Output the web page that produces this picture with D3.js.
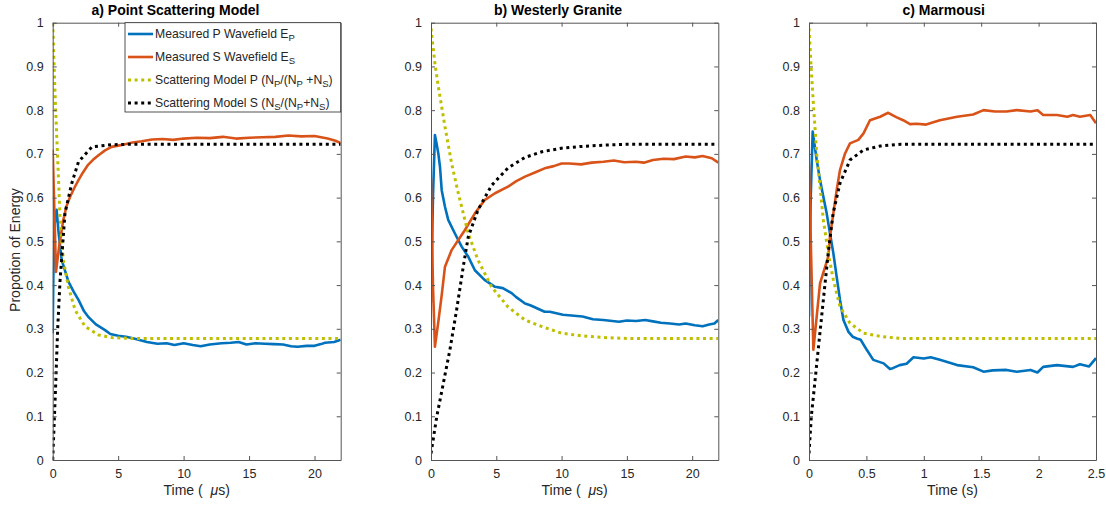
<!DOCTYPE html>
<html>
<head>
<meta charset="utf-8">
<script src="https://cdn.jsdelivr.net/npm/d3@7"></script>
<style>
  body { margin: 0; background: #fff; }
  text { font-family: "Liberation Sans", Arial, sans-serif; fill: #262626; }
</style>
</head>
<body>
<div id="chart"></div>
<script>
// values: [time, proportion]
const measuredPA = [[0,0.29],[0.05,0.42],[0.15,0.54],[0.3,0.572],[0.45,0.52],[0.69,0.457],[1.2,0.408],[1.6,0.385],[1.97,0.366],[2.4,0.34],[2.7,0.328],[3.3,0.31],[4.0,0.297],[4.4,0.288],[5.0,0.284],[5.6,0.282],[6.2,0.278],[7.2,0.27],[8.0,0.266],[8.7,0.267],[9.3,0.263],[10,0.267],[10.7,0.263],[11.3,0.26],[12.0,0.264],[12.9,0.267],[13.6,0.268],[14.2,0.27],[14.8,0.264],[15.5,0.267],[16.2,0.266],[16.9,0.265],[17.6,0.264],[18.2,0.26],[18.7,0.259],[19.4,0.261],[20,0.261],[20.5,0.265],[20.8,0.268],[21.5,0.27],[22,0.275]];
const measuredSA = [[0,0.71],[0.1,0.6],[0.25,0.43],[0.5,0.49],[0.81,0.549],[1.05,0.58],[1.33,0.602],[1.65,0.622],[1.97,0.64],[2.3,0.657],[2.7,0.675],[3.1,0.687],[3.5,0.697],[4.0,0.708],[4.5,0.716],[5.2,0.72],[6.1,0.726],[6.8,0.729],[7.6,0.733],[8.4,0.734],[9.2,0.732],[10,0.735],[11,0.737],[12,0.736],[13,0.739],[14,0.735],[15,0.737],[16,0.738],[17,0.739],[18,0.742],[19,0.74],[20,0.741],[21,0.735],[21.6,0.73],[22,0.725]];
const modelPA = [[0,1.0],[0.1,0.91],[0.2,0.82],[0.3,0.747],[0.56,0.556],[0.81,0.457],[1.2,0.396],[1.71,0.343],[2.48,0.305],[3.5,0.286],[4.5,0.28],[6,0.278],[22,0.278]];
const modelSA = [[0,0.0],[0.2,0.15],[0.38,0.3],[0.56,0.41],[0.94,0.565],[1.46,0.633],[1.97,0.682],[3.0,0.716],[4.5,0.721],[6,0.722],[22,0.722]];

const measuredPB = [[0,0.359],[0.15,0.6],[0.3,0.743],[0.45,0.72],[0.56,0.701],[0.69,0.67],[0.82,0.617],[1.07,0.579],[1.32,0.549],[1.83,0.518],[2.35,0.488],[2.85,0.465],[3.36,0.434],[4.1,0.412],[4.9,0.396],[5.5,0.393],[6.2,0.381],[6.5,0.373],[7.2,0.358],[7.6,0.354],[8.7,0.339],[9.1,0.339],[10.1,0.332],[11.6,0.328],[12.4,0.322],[13.2,0.32],[14.4,0.316],[15.0,0.319],[15.7,0.318],[16.4,0.32],[17,0.317],[17.6,0.314],[18.3,0.312],[19.0,0.31],[19.5,0.312],[20.2,0.308],[20.8,0.306],[21.3,0.31],[21.7,0.312],[22,0.32]];
const measuredSB = [[0,0.644],[0.15,0.4],[0.3,0.259],[0.56,0.316],[0.82,0.377],[1.07,0.442],[1.58,0.48],[2.09,0.503],[2.6,0.526],[3.36,0.564],[4.13,0.595],[4.9,0.61],[5.9,0.625],[6.5,0.637],[7.2,0.648],[8.0,0.658],[8.7,0.667],[9.4,0.672],[10,0.678],[10.6,0.678],[11.5,0.676],[12.3,0.68],[13.2,0.682],[14,0.685],[14.8,0.681],[15.7,0.682],[16.3,0.68],[17,0.686],[17.8,0.689],[18.6,0.688],[19.5,0.694],[20.2,0.692],[20.8,0.695],[21.5,0.69],[22,0.68]];
const modelPB = [[0,0.987],[0.3,0.907],[0.56,0.854],[1.07,0.762],[1.58,0.678],[2.09,0.61],[2.85,0.518],[3.6,0.457],[4.64,0.396],[5.9,0.35],[7.2,0.32],[8.5,0.305],[10,0.29],[11.5,0.284],[13.2,0.28],[15,0.278],[22,0.278]];
const modelSB = [[0,0.015],[0.44,0.099],[0.94,0.175],[1.45,0.252],[1.96,0.343],[2.47,0.442],[2.85,0.51],[3.6,0.572],[4.64,0.628],[5.9,0.668],[7.2,0.692],[8.5,0.705],[10,0.713],[11.5,0.717],[13.2,0.72],[15,0.722],[22,0.722]];

const measuredPC = [[0,0.328],[0.015,0.6],[0.032,0.751],[0.067,0.686],[0.096,0.64],[0.125,0.602],[0.154,0.564],[0.183,0.518],[0.212,0.473],[0.241,0.419],[0.27,0.366],[0.3,0.32],[0.344,0.293],[0.38,0.282],[0.416,0.278],[0.45,0.275],[0.503,0.252],[0.56,0.229],[0.65,0.221],[0.705,0.208],[0.73,0.21],[0.79,0.217],[0.85,0.22],[0.91,0.235],[1.0,0.232],[1.06,0.235],[1.14,0.229],[1.29,0.217],[1.43,0.212],[1.52,0.202],[1.6,0.205],[1.72,0.206],[1.81,0.202],[1.93,0.206],[1.99,0.2],[2.04,0.213],[2.16,0.217],[2.3,0.213],[2.36,0.219],[2.44,0.214],[2.5,0.233]];
const measuredSC = [[0,0.678],[0.02,0.45],[0.038,0.252],[0.096,0.404],[0.168,0.465],[0.183,0.511],[0.212,0.564],[0.241,0.617],[0.27,0.663],[0.314,0.701],[0.357,0.724],[0.43,0.732],[0.475,0.747],[0.531,0.777],[0.62,0.785],[0.69,0.794],[0.76,0.784],[0.82,0.777],[0.88,0.768],[0.94,0.769],[1.02,0.767],[1.14,0.777],[1.29,0.785],[1.43,0.79],[1.52,0.8],[1.62,0.797],[1.72,0.797],[1.81,0.8],[1.93,0.797],[1.99,0.8],[2.04,0.789],[2.16,0.789],[2.25,0.785],[2.3,0.789],[2.36,0.785],[2.45,0.789],[2.5,0.77]];
const modelPC = [[0,0.987],[0.02,0.892],[0.038,0.816],[0.067,0.701],[0.096,0.625],[0.125,0.549],[0.168,0.473],[0.212,0.412],[0.27,0.351],[0.357,0.313],[0.475,0.29],[0.64,0.282],[0.8,0.278],[2.5,0.278]];
const modelSC = [[0,0.015],[0.02,0.099],[0.05,0.175],[0.08,0.252],[0.11,0.328],[0.14,0.404],[0.17,0.48],[0.21,0.564],[0.27,0.633],[0.357,0.686],[0.475,0.709],[0.62,0.718],[0.8,0.722],[2.5,0.722]];

const titles = ["a) Point Scattering Model", "b) Westerly Granite", "c) Marmousi"];
const titleCenters = [175.5, 558, 943.7];
const xMaxes = [22, 22, 2.5];
const xTickVals = [[0, 5, 10, 15, 20], [0, 5, 10, 15, 20], [0, 0.5, 1, 1.5, 2, 2.5]];
const yTickVals = d3.range(0, 11).map(i => i / 10);
// legend text pieces: [text, isSubscript]
const legendLabels = [
  [["Measured P Wavefield E", false], ["P", true]],
  [["Measured S Wavefield E", false], ["S", true]],
  [["Scattering Model P (N", false], ["P", true], ["/(N", false], ["P", true], [" +N", false], ["S", true], [")", false]],
  [["Scattering Model S (N", false], ["S", true], ["/(N", false], ["P", true], ["+N", false], ["S", true], [")", false]]
];

const panelSeries = [
  [measuredPA, measuredSA, modelPA, modelSA],
  [measuredPB, measuredSB, modelPB, modelSB],
  [measuredPC, measuredSC, modelPC, modelSC]
];
const styles = [
  { color: "#0072BD", width: 2.6, dash: null },
  { color: "#D95319", width: 2.6, dash: null },
  { color: "#BFBF00", width: 3, dash: "3,3.6" },
  { color: "#000000", width: 3, dash: "3,3.6" }
];

const panelX = [[52.7, 340.7], [431, 718.3], [809, 1096]];
const plotTop = 22.7, plotBottom = 460;
const axisColor = "#555";

const svg = d3.select("#chart").append("svg")
  .attr("width", 1106).attr("height", 507);

const y = d3.scaleLinear([0, 1], [plotBottom, plotTop]);

panelSeries.forEach((series, i) => {
  const [x0, x1] = panelX[i];
  const x = d3.scaleLinear([0, xMaxes[i]], [x0, x1]);
  const g = svg.append("g");

  g.append("clipPath").attr("id", "clip" + i)
    .append("rect").attr("x", x0).attr("y", plotTop).attr("width", x1 - x0).attr("height", plotBottom - plotTop);

  const line = d3.line().x(d => x(d[0])).y(d => y(d[1]));
  const lines = g.append("g").attr("clip-path", `url(#clip${i})`);
  series.forEach((s, k) => {
    lines.append("path").datum(s)
      .attr("fill", "none")
      .attr("stroke", styles[k].color)
      .attr("stroke-width", styles[k].width)
      .attr("stroke-dasharray", styles[k].dash)
      .attr("stroke-linejoin", "round")
      .attr("d", line);
  });

  // axes on all four sides, ticks pointing in
  const fmt = d => d3.format("")(d);
  g.append("g").attr("transform", `translate(0,${plotBottom})`)
    .call(d3.axisBottom(x).tickValues(xTickVals[i]).tickSizeInner(-4).tickSizeOuter(0).tickPadding(9).tickFormat(fmt));
  g.append("g").attr("transform", `translate(0,${plotTop})`)
    .call(d3.axisTop(x).tickValues(xTickVals[i]).tickSizeInner(-4).tickSizeOuter(0).tickFormat(""));
  g.append("g").attr("transform", `translate(${x0},0)`)
    .call(d3.axisLeft(y).tickValues(yTickVals).tickSizeInner(-4).tickSizeOuter(0).tickPadding(9).tickFormat(fmt));
  g.append("g").attr("transform", `translate(${x1},0)`)
    .call(d3.axisRight(y).tickValues(yTickVals).tickSizeInner(-4).tickSizeOuter(0).tickFormat(""));

  g.selectAll(".domain").attr("stroke", axisColor);
  g.selectAll(".tick line").attr("stroke", axisColor);
  g.selectAll(".tick text").attr("font-size", 12.5).attr("fill", "#262626")
    .attr("font-family", '"Liberation Sans", Arial, sans-serif');

  g.append("text")
    .attr("x", titleCenters[i]).attr("y", 15)
    .attr("text-anchor", "middle")
    .attr("font-size", 14).attr("font-weight", "bold").style("fill", "#000")
    .text(titles[i]);

  const xl = g.append("text")
    .attr("x", (x0 + x1) / 2).attr("y", 495)
    .attr("text-anchor", "middle")
    .attr("font-size", 14)
    .style("white-space", "pre");
  if (i < 2) {
    xl.append("tspan").text("Time (  ");
    xl.append("tspan").attr("font-style", "italic").text("μ");
    xl.append("tspan").text("s)");
  } else {
    xl.text("Time (s)");
  }
});

svg.append("text")
  .attr("transform", "translate(20,250) rotate(-90)")
  .attr("text-anchor", "middle")
  .attr("font-size", 14)
  .text("Propotion of Energy");

// legend in panel a
const leg = svg.append("g");
leg.append("rect")
  .attr("x", 125).attr("y", plotTop).attr("width", 340.7 - 125).attr("height", 112 - plotTop)
  .attr("fill", "#fff").attr("stroke", "#262626").attr("stroke-width", 0.8);

legendLabels.forEach((parts, k) => {
  const cy = 34 + k * 23;
  leg.append("line")
    .attr("x1", 128).attr("x2", 153).attr("y1", cy).attr("y2", cy)
    .attr("stroke", styles[k].color)
    .attr("stroke-width", styles[k].width)
    .attr("stroke-dasharray", styles[k].dash);
  const t = leg.append("text")
    .attr("x", 155).attr("y", cy + 4)
    .attr("font-size", 12.2)
    .style("white-space", "pre");
  let shifted = false;
  parts.forEach(([s, sub]) => {
    const ts = t.append("tspan").text(s);
    if (sub) {
      ts.attr("font-size", 9.5).attr("dy", shifted ? 0 : 3);
      shifted = true;
    } else {
      ts.attr("dy", shifted ? -3 : 0);
      shifted = false;
    }
  });
});
</script>
</body>
</html>
